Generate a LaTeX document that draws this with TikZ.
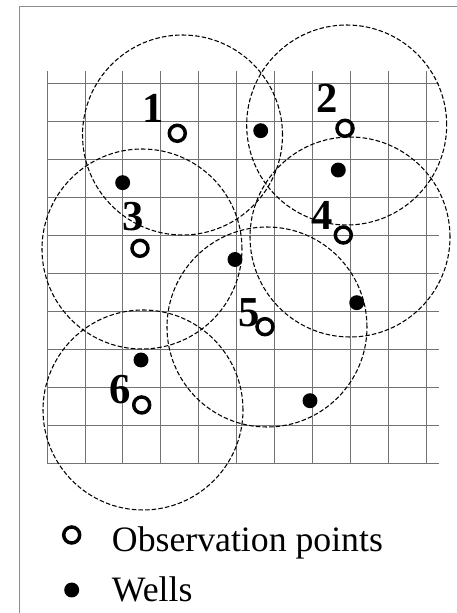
\documentclass[tikz,border=0pt]{standalone}
\usepackage{fontspec}
\setmainfont{Liberation Serif}
\usetikzlibrary{positioning}

\tikzset{
  gridline/.style={draw=black!55, line width=0.6pt},
  frameline/.style={draw=black!45, line width=0.7pt},
  zone/.style={dashed, dash pattern=on 3.4pt off 1.6pt, line width=0.8pt},
  obspt/.style={circle, draw, line width=2.6pt, minimum size=12pt, inner sep=0pt},
  wellpt/.style={circle, fill, minimum size=11.2pt, inner sep=0pt},
  zonelabel/.style={font=\fontsize{32}{32}\selectfont\bfseries, inner sep=0pt},
  legtext/.style={font=\fontsize{26.8}{30}\selectfont, inner sep=0pt, anchor=base west}
}

\begin{document}
\begin{tikzpicture}[x=29.4pt, y=29.4pt]
  \useasboundingbox (-1.199,-3.827) rectangle (10.459,11.811);
  % frame
  \draw[frameline] (10.459,11.658) -- (-0.714,11.658) -- (-0.714,-3.827);
  % grid
  \draw[gridline] (0,0) grid (10,10);
  % influence zones
  \foreach \cx/\cy in {3.457/8.367, 7.645/8.622, 2.423/5.459, 7.730/5.765, 5.612/3.469, 2.449/1.352}
    \draw[zone] (\cx,\cy) circle (2.551);
  % observation points
  \node[obspt] (o1) at (3.324,8.411) {};
  \node[obspt] (o2) at (7.602,8.538) {};
  \node[obspt] (o3) at (2.372,5.477) {};
  \node[obspt] (o4) at (7.559,5.816) {};
  \node[obspt] (o5) at (5.561,3.477) {};
  \node[obspt] (o6) at (2.416,1.480) {};
  % wells
  \node[wellpt] (w1) at (1.931,7.151) {};
  \node[wellpt] (w2) at (5.452,8.477) {};
  \node[wellpt] (w3) at (7.431,7.474) {};
  \node[wellpt] (w4) at (4.796,5.191) {};
  \node[wellpt] (w5) at (7.901,4.089) {};
  \node[wellpt] (w6) at (2.398,2.628) {};
  \node[wellpt] (w7) at (6.709,1.589) {};
  % zone numbers
  \node[zonelabel] (l1) at (2.704,9.056) {1};
  \node[zonelabel] (l2) at (7.135,9.304) {2};
  \node[zonelabel] (l3) at (2.194,6.283) {3};
  \node[zonelabel] (l4) at (7.008,6.327) {4};
  \node[zonelabel] (l5) at (5.153,3.827) {5};
  \node[zonelabel] (l6) at (1.862,1.862) {6};
  % legend
  \node[obspt] (legobs) at (0.630,-1.837) {};
  \node[wellpt] (legwell) at (0.630,-3.240) {};
  \node[legtext] (txtobs) at (1.651,-2.263) {Observation points};
  \node[legtext] (txtwell) at (1.651,-3.538) {Wells};
\end{tikzpicture}
\end{document}
